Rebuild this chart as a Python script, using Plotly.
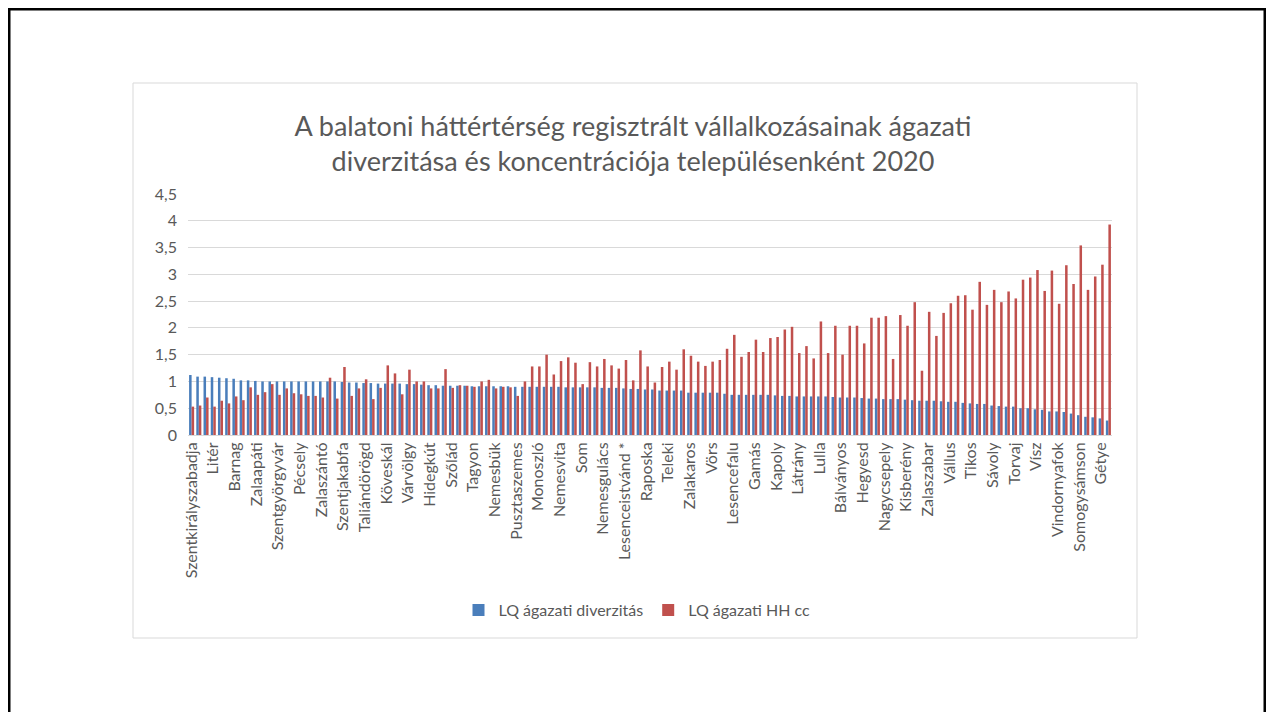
import plotly.graph_objects as go

# Category labels shown on the axis (every 3rd settlement)
label_names = ["Szentkirályszabadja", "Litér", "Barnag", "Zalaapáti", "Szentgyörgyvár",
               "Pécsely", "Zalaszántó", "Szentjakabfa", "Taliándörögd", "Köveskál",
               "Várvölgy", "Hidegkút", "Szőlád", "Tagyon", "Nemesbük", "Pusztaszemes",
               "Monoszló", "Nemesvita", "Som", "Nemesgulács", "Lesenceistvánd *",
               "Raposka", "Teleki", "Zalakaros", "Vörs", "Lesencefalu", "Gamás",
               "Kapoly", "Látrány", "Lulla", "Bálványos", "Hegyesd", "Nagycsepely",
               "Kisberény", "Zalaszabar", "Vállus", "Tikos", "Sávoly", "Torvaj", "Vísz",
               "Vindornyafok", "Somogysámson", "Gétye"]
label_step = 3

lq_div = [1.12, 1.09, 1.09, 1.08, 1.07, 1.06, 1.05, 1.02, 1.02, 1.01, 1.00, 1.00, 1.00, 1.00,
          1.00, 1.00, 1.00, 1.00, 1.00, 1.00, 1.00,
          0.99, 0.98, 0.98, 0.97, 0.97, 0.96, 0.96, 0.96, 0.96, 0.95, 0.95, 0.94, 0.93, 0.93,
          0.92, 0.92, 0.92, 0.92, 0.91, 0.91, 0.91,
          0.91,
          0.91, 0.91, 0.90, 0.90, 0.90, 0.90, 0.90, 0.90, 0.90, 0.89, 0.89, 0.89, 0.89, 0.89,
          0.88, 0.88, 0.88, 0.87, 0.86, 0.86, 0.85,
          0.85, 0.83, 0.83, 0.83, 0.83, 0.79, 0.79, 0.79, 0.79, 0.79, 0.77, 0.75, 0.75, 0.75,
          0.75, 0.75, 0.75, 0.74, 0.73, 0.73, 0.72,
          0.72,
          0.72, 0.72, 0.72, 0.71, 0.70, 0.70, 0.70, 0.69, 0.68, 0.68, 0.67, 0.67, 0.67, 0.66,
          0.65, 0.64, 0.64, 0.64, 0.63, 0.62, 0.62,
          0.60, 0.59, 0.58, 0.58, 0.55, 0.54, 0.53, 0.53, 0.50, 0.50, 0.48, 0.47, 0.44, 0.44,
          0.43, 0.40, 0.37, 0.34, 0.33, 0.31, 0.27]

lq_hh = [0.53, 0.55, 0.70, 0.53, 0.64, 0.59, 0.72, 0.65, 0.89, 0.75, 0.80, 0.95, 0.75, 0.87,
         0.78, 0.76, 0.73, 0.73, 0.70, 1.07, 0.68,
         1.27, 0.73, 0.87, 1.04, 0.67, 0.88, 1.30, 1.15, 0.76, 1.22, 1.00, 1.00, 0.87, 0.87,
         1.23, 0.88, 0.93, 0.92, 0.90, 1.00, 1.03,
         0.87,
         0.90, 0.89, 0.73, 1.00, 1.28, 1.28, 1.50, 1.13, 1.38, 1.45, 1.35, 0.95, 1.36, 1.28,
         1.42, 1.30, 1.24, 1.40, 1.02, 1.58, 1.28,
         0.98, 1.27, 1.37, 1.22, 1.60, 1.48, 1.37, 1.29, 1.37, 1.40, 1.61, 1.87, 1.46, 1.55,
         1.78, 1.55, 1.81, 1.83, 1.97, 2.02, 1.53,
         1.66,
         1.43, 2.12, 1.53, 2.04, 1.50, 2.04, 2.04, 1.71, 2.19, 2.19, 2.22, 1.42, 2.24, 2.04,
         2.48, 1.20, 2.30, 1.85, 2.28, 2.46, 2.60,
         2.61, 2.34, 2.86, 2.43, 2.71, 2.48, 2.68, 2.55, 2.90, 2.94, 3.08, 2.69, 3.07, 2.45,
         3.17, 2.82, 3.54, 2.71, 2.96, 3.18, 3.93]

y_ticks = [0, 0.5, 1, 1.5, 2, 2.5, 3, 3.5, 4, 4.5]

idx = list(range(len(lq_div)))
tick_pos = [i * label_step for i in range(len(label_names))]

BLUE = "#4A7EBB"
RED = "#C0504D"
FONT = "Lato"
GREY_TXT = "#595959"

fig = go.Figure()
fig.add_trace(go.Bar(x=idx, y=lq_div, name="LQ ágazati diverzitás", marker_color=BLUE,
                     marker_line_width=0))
fig.add_trace(go.Bar(x=idx, y=lq_hh, name="LQ ágazati HH cc", marker_color=RED,
                     marker_line_width=0))

# page has an 8px body margin: figure pixel = page pixel - 8
OFF = 8
W, H = 1274 - 2 * OFF, 720 - 2 * OFF
L, R, T, B = 188 - OFF, 1112 - OFF, 194 - OFF, 435 - OFF
pw, ph = R - L, B - T

def px_x(x):
    return (x - OFF - L) / pw

def px_y(y):
    return (B - (y - OFF)) / ph

fig.update_layout(
    width=W, height=H,
    margin=dict(l=L, r=W - R, t=T, b=H - B, autoexpand=False),
    paper_bgcolor="white", plot_bgcolor="white",
    separators=", ",
    barmode="group", bargap=0.3, bargroupgap=0.0,
    font=dict(family=FONT, color=GREY_TXT),
    title=dict(text="A balatoni háttértérség regisztrált vállalkozásainak ágazati<br>"
                    "diverzitása és koncentrációja településenként 2020",
               x=(633 - OFF) / W, xanchor="center", y=1 - (136 - OFF) / H, yanchor="middle",
               yref="container",
               font=dict(family=FONT, size=27, color=GREY_TXT)),
    legend=dict(orientation="h", x=px_x(637), xanchor="center", y=px_y(610),
                yanchor="middle", font=dict(family=FONT, size=16, color=GREY_TXT),
                itemwidth=30, traceorder="normal"),
    showlegend=True,
)
fig.update_xaxes(
    range=[-0.5, len(idx) - 0.5], tickmode="array", tickvals=tick_pos, ticktext=label_names,
    tickangle=-90, tickfont=dict(family=FONT, size=16, color=GREY_TXT),
    showgrid=False, showline=True, linecolor="#D9D9D9", linewidth=1, ticks="",
    zeroline=False, automargin=False,
)
fig.update_yaxes(
    range=[0, 4.5], tickmode="array", tickvals=y_ticks,
    tickfont=dict(family=FONT, size=16, color=GREY_TXT),
    showgrid=True, gridcolor="#D9D9D9", gridwidth=1, zeroline=False, showline=False,
    ticks="", ticklabelstandoff=10, automargin=False,
)

# chart frame
fig.add_shape(type="rect", xref="paper", yref="paper",
              x0=px_x(133), x1=px_x(1137), y0=px_y(638), y1=px_y(83),
              line=dict(color="#D9D9D9", width=1), fillcolor="rgba(0,0,0,0)", layer="below")
# slide border
fig.add_shape(type="rect", xref="paper", yref="paper",
              x0=px_x(9), x1=px_x(1265), y0=px_y(780), y1=px_y(9),
              line=dict(color="black", width=3), fillcolor="rgba(0,0,0,0)")

fig.write_html("out.html")
